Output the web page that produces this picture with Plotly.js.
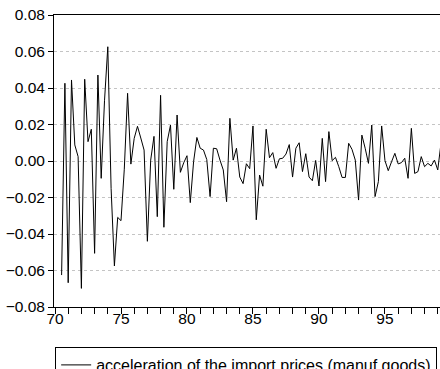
<!DOCTYPE html>
<html>
<head>
<meta charset="utf-8">
<script src="https://cdn.plot.ly/plotly-3.0.1.min.js"></script>
<style>
  html, body { margin: 0; padding: 0; background: #ffffff; }
  #chart { width: 440px; height: 369px; }
</style>
</head>
<body>
<div id="chart"></div>
<script>
// Quarterly series, first observation 1970Q3, last 1999Q2
const seriesName = "acceleration of the import prices (manuf goods)";
const firstPeriod = 70.5;      // 1970Q3 on a two-digit year scale
const periodStep = 0.25;       // one quarter

const accel = [
  -0.0625, 0.0426,
  -0.0667, 0.0444, 0.0088, 0.0024,
  -0.0698, 0.0448, 0.0106, 0.0174,
  -0.0506, 0.0471, -0.0095, 0.0330,
  0.0626, -0.0150, -0.0575, -0.0309,
  -0.0327, -0.0045, 0.0371, -0.0017,
  0.0124, 0.0190, 0.0126, 0.0060,
  -0.0440, 0.0005, 0.0135, -0.0305,
  0.0360, -0.0363, 0.0106, 0.0197,
  -0.0155, 0.0252, -0.0062, -0.0010,
  0.0029, -0.0228, -0.0004, 0.0129,
  0.0070, 0.0060, 0.0008, -0.0195,
  0.0070, 0.0067, 0.0005, -0.0049,
  -0.0223, 0.0234, 0.0005, 0.0070,
  -0.0088, -0.0124, -0.0015, -0.0042,
  0.0192, -0.0322, -0.0077, -0.0138,
  0.0174, 0.0018, 0.0046, -0.0040,
  0.0012, 0.0015, 0.0038, 0.0090,
  -0.0088, 0.0070, 0.0100, -0.0058,
  0.0040, -0.0088, -0.0108, 0.0003,
  -0.0137, 0.0124, -0.0113, 0.0161,
  0.0002, 0.0020, -0.0031, -0.0090,
  -0.0090, 0.0097, 0.0064, 0.0005,
  -0.0214, 0.0142, 0.0070, -0.0013,
  0.0197, -0.0195, -0.0113, 0.0192,
  0.0002, -0.0053, -0.0004, 0.0042,
  -0.0016, -0.0009, 0.0015, -0.0095,
  0.0179, -0.0068, -0.0058, 0.0024,
  -0.0031, -0.0013, -0.0027, 0.0005,
  -0.0049, 0.0100
];

// A tick every year; only every fifth year carries a label
const xTickYears = [70, 71, 72, 73, 74, 75, 76, 77, 78, 79, 80, 81, 82, 83, 84,
                    85, 86, 87, 88, 89, 90, 91, 92, 93, 94, 95, 96, 97, 98, 99];
const xTickLabels = ["70", "", "", "", "", "75", "", "", "", "", "80", "", "", "", "",
                     "85", "", "", "", "", "90", "", "", "", "", "95", "", "", "", ""];
const yTickVals = [-0.08, -0.06, -0.04, -0.02, 0.00, 0.02, 0.04, 0.06, 0.08];

const periods = accel.map((_, i) => firstPeriod + i * periodStep);

const tickFont = { family: "Liberation Sans, Arial, sans-serif", size: 15.5, color: "#000000" };
const legendFont = { family: "Liberation Sans, Arial, sans-serif", size: 16, color: "#000000" };

const trace = {
  x: periods,
  y: accel,
  type: "scatter",
  mode: "lines",
  name: seriesName,
  line: { color: "#000000", width: 1 },
  hoverinfo: "skip"
};

const layout = {
  width: 440,
  height: 369,
  margin: { l: 54, r: 0, t: 15, b: 62, pad: 0, autoexpand: false },
  paper_bgcolor: "#ffffff",
  plot_bgcolor: "#ffffff",
  font: tickFont,
  showlegend: true,
  legend: {
    x: 0.003, xanchor: "left",
    y: -0.137, yanchor: "top",
    bgcolor: "#ffffff",
    bordercolor: "#000000",
    borderwidth: 1,
    font: legendFont
  },
  xaxis: {
    range: [69.924, 99.17],
    tickmode: "array",
    tickvals: xTickYears,
    ticktext: xTickLabels,
    ticks: "outside",
    ticklen: 6,
    tickwidth: 1,
    tickcolor: "#000000",
    ticklabelstandoff: -9,
    showgrid: false,
    zeroline: false,
    showline: true,
    linecolor: "#000000",
    linewidth: 1,
    mirror: true,
    tickfont: tickFont
  },
  yaxis: {
    range: [-0.08, 0.08],
    tickmode: "array",
    tickvals: yTickVals,
    tickformat: ".2f",
    ticks: "outside",
    ticklen: 5,
    tickwidth: 1,
    tickcolor: "#000000",
    showgrid: true,
    gridcolor: "#c4c4c4",
    griddash: "dot",
    gridwidth: 1,
    zeroline: false,
    showline: true,
    linecolor: "#000000",
    linewidth: 1,
    tickfont: tickFont
  }
};

Plotly.newPlot("chart", [trace], layout, { staticPlot: true, displayModeBar: false });
</script>
</body>
</html>
